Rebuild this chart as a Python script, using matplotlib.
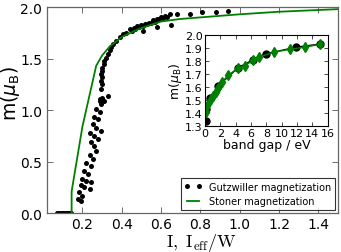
import matplotlib
matplotlib.use("Agg")
import matplotlib.pyplot as plt

# Gutzwiller magnetization (main panel)
gutz_x = [0.07, 0.08, 0.09, 0.10, 0.11, 0.12, 0.13, 0.14,
          0.176, 0.193, 0.185, 0.20, 0.193, 0.21, 0.236, 0.244, 0.219, 0.20,
          0.227, 0.21, 0.244, 0.219, 0.253, 0.236, 0.27, 0.261, 0.244, 0.278,
          0.261, 0.236, 0.295, 0.27, 0.253, 0.278, 0.261, 0.287, 0.27, 0.295,
          0.287, 0.312, 0.287, 0.30, 0.33, 0.295, 0.30, 0.295, 0.30, 0.295,
          0.30, 0.30, 0.312, 0.312, 0.32, 0.33, 0.338, 0.346, 0.355, 0.37,
          0.389, 0.406, 0.423, 0.44, 0.46, 0.48, 0.50, 0.52, 0.54, 0.56,
          0.58, 0.60, 0.62, 0.45, 0.47, 0.49, 0.51, 0.53, 0.55, 0.57, 0.59,
          0.61, 0.63, 0.51, 0.58, 0.65, 0.645, 0.68, 0.745, 0.81, 0.88, 0.94]
gutz_y = [0.0, 0.0, 0.0, 0.0, 0.0, 0.0, 0.0, 0.0,
          0.14, 0.12, 0.20, 0.17, 0.27, 0.25, 0.23, 0.30, 0.31, 0.33,
          0.38, 0.41, 0.46, 0.49, 0.52, 0.56, 0.60, 0.65, 0.69, 0.72,
          0.75, 0.78, 0.80, 0.83, 0.86, 0.91, 0.93, 0.98, 1.01, 1.06,
          1.09, 1.09, 1.11, 1.12, 1.14, 1.20, 1.25, 1.28, 1.32, 1.35,
          1.38, 1.41, 1.45, 1.48, 1.51, 1.54, 1.58, 1.61, 1.64, 1.67,
          1.71, 1.74, 1.75, 1.79, 1.80, 1.82, 1.83, 1.84, 1.85, 1.87,
          1.88, 1.90, 1.91, 1.77, 1.79, 1.81, 1.82, 1.84, 1.85, 1.86, 1.88,
          1.89, 1.90, 1.77, 1.81, 1.83, 1.93, 1.93, 1.93, 1.95, 1.95, 1.96]

# Stoner magnetization (main panel)
stoner_x = [0.145, 0.145, 0.2, 0.27, 0.30, 0.34, 0.40, 0.49, 0.60, 0.70,
            0.80, 1.0, 1.2, 1.5]
stoner_y = [0.0, 0.21, 0.84, 1.43, 1.53, 1.62, 1.71, 1.79, 1.86, 1.885,
            1.90, 1.93, 1.955, 1.98]

# inset: magnetization vs band gap
gap_black = [0.09, 0.2, 0.65, 1.74, 4.35, 6.3, 7.9, 11.9, 15.0]
m_black = [1.343, 1.433, 1.52, 1.61, 1.75, 1.81, 1.855, 1.906, 1.93]
gap_green = [0.2, 0.43, 0.8, 1.1, 1.4, 1.74, 2.26, 3.0, 4.3, 5.2, 6.3,
             7.0, 9.0, 11.1, 13.0, 15.0]
m_green = [1.41, 1.47, 1.51, 1.535, 1.56, 1.59, 1.64, 1.69, 1.745, 1.765,
           1.805, 1.83, 1.868, 1.89, 1.906, 1.928]
m_green_err = [0.012] * len(m_green)

fig = plt.figure(figsize=(3.41, 2.53), dpi=100)
ax = fig.add_axes([0.138, 0.154, 0.853, 0.814])

ax.plot(gutz_x, gutz_y, 'o', color='black', markersize=3.6,
        markeredgewidth=0, label='Gutzwiller magnetization')
ax.plot(stoner_x, stoner_y, '-', color='green', lw=1.3,
        label='Stoner magnetization')

ax.set_xlim(0.02, 1.5)
ax.set_ylim(0.0, 2.0)
ax.set_xticks([0.2, 0.4, 0.6, 0.8, 1.0, 1.2, 1.4])
ax.set_yticks([0.0, 0.5, 1.0, 1.5, 2.0])
ax.tick_params(direction='in', top=True, right=True, labelsize=10,
               length=4, width=0.6, colors='#555555', labelcolor='black')
ax.tick_params(axis='x', pad=2.5)
for sp in ax.spines.values():
    sp.set_color('#666666')
    sp.set_linewidth(0.9)

ax.set_xlabel(r'$\mathrm{I,\ I_{eff}/W}$', fontsize=13, math_fontfamily='cm',
              va='top')
ax.xaxis.set_label_coords(0.53, -0.087)
ax.set_ylabel(r'm($\mu_{\rm B}$)', fontsize=13.5, va='center')
ax.yaxis.set_label_coords(-0.125, 0.585)

leg = ax.legend(loc='lower right', fontsize=7, numpoints=2, frameon=True,
                fancybox=False, borderpad=0.4, handlelength=1.8,
                labelspacing=0.45, borderaxespad=0.3, handletextpad=0.7)
leg.get_frame().set_edgecolor('black')
leg.get_frame().set_linewidth(0.8)

# inset
ins = fig.add_axes([0.601, 0.497, 0.36, 0.361])
ins.plot(gap_black, m_black, 'o-', color='black', markersize=5, lw=1)
ins.errorbar(gap_green, m_green, yerr=m_green_err, fmt='d-', color='green',
             markersize=5, lw=1, elinewidth=1, capsize=0)
ins.set_xlim(0, 16)
ins.set_ylim(1.3, 2.0)
ins.set_xticks(range(0, 17, 2))
ins.set_yticks([1.3, 1.4, 1.5, 1.6, 1.7, 1.8, 1.9, 2.0])
ins.tick_params(direction='in', top=True, right=True, labelsize=8,
                length=3, width=0.5, pad=1.5)
ins.set_xlabel('band gap / eV', fontsize=9, labelpad=0)
ins.set_ylabel(r'm($\mu_{\rm B}$)', fontsize=9, labelpad=1)

fig.savefig('out.png', dpi=100)
